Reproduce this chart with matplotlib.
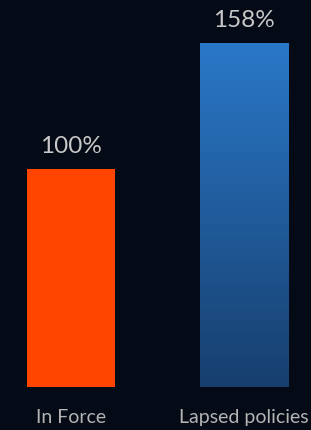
import numpy as np
import matplotlib.pyplot as plt
from matplotlib.colors import LinearSegmentedColormap

categories = ["In Force", "Lapsed policies"]
values = [100, 158]
value_labels = ["100%", "158%"]

bg = "#050b16"
plt.rcParams["font.family"] = ["Lato", "DejaVu Sans"]

fig = plt.figure(figsize=(3.11, 4.31), dpi=100, facecolor=bg)
ax = fig.add_axes([0, 0, 1, 1])
ax.set_facecolor(bg)

x = np.arange(len(categories))
bars = ax.bar(x, values, width=0.51, color=["#ff4500", "#2a78c8"], zorder=2)

# vertical gradient on the second bar
blue = LinearSegmentedColormap.from_list("blue", ["#173f6e", "#2a78c8"])
b = bars[1]
grad = np.linspace(0, 1, 256).reshape(-1, 1)
im = ax.imshow(grad, cmap=blue, origin="lower", aspect="auto", zorder=3,
               extent=[b.get_x(), b.get_x() + b.get_width(), 0, b.get_height()])
im.set_clip_path(b)

for xi, v, lab in zip(x, values, value_labels):
    ax.text(xi, v + 6, lab, ha="center", va="bottom", fontsize=17.5, color="#c8c8c8")

for xi, cat in zip(x, categories):
    ax.text(xi, -13.5, cat, ha="center", va="center", fontsize=14, color="#b4b4b4")

ax.set_xlim(-0.41, 1.387)
ax.set_ylim(-19.7, 178)
ax.axis("off")

fig.savefig("out.png", dpi=100, facecolor=bg)
